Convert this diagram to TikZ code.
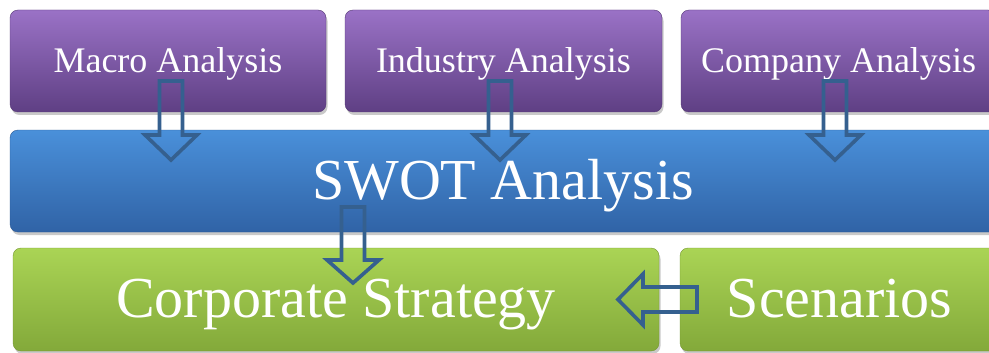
\documentclass[tikz,border=0pt]{standalone}
\usepackage{fontspec}
\setmainfont{Liberation Serif}
\usetikzlibrary{shadows}
\definecolor{arrcol}{HTML}{35608F}
\tikzset{
  box/.style={rounded corners=8pt, drop shadow={shadow xshift=1.5pt, shadow yshift=-3pt, opacity=0.35, fill=black!60}},
  purplebox/.style={box, top color=purTop, middle color=purMid, bottom color=purBot, draw=purBot!90!black, line width=0.4pt},
  bluebox/.style={box, top color=bluTop, middle color=bluMid, bottom color=bluBot, draw=bluBot!90!black, line width=0.4pt},
  greenbox/.style={box, top color=grnTop, middle color=grnMid, bottom color=grnBot, draw=grnBot!90!black, line width=0.4pt},
  smalltxt/.style={text=white, font=\fontsize{36}{40}\selectfont, anchor=base, inner sep=0pt},
  bigtxt/.style={text=white, font=\fontsize{58}{64}\selectfont, anchor=base, inner sep=0pt},
  blockarrow/.style={draw=arrcol, line width=3.6pt, line join=miter},
}
\definecolor{purTop}{HTML}{9A72C6}
\definecolor{purMid}{HTML}{7B56A6}
\definecolor{purBot}{HTML}{5F3F84}
\definecolor{bluTop}{HTML}{4A90DA}
\definecolor{bluMid}{HTML}{3D7DC9}
\definecolor{bluBot}{HTML}{3063A6}
\definecolor{grnTop}{HTML}{AAD455}
\definecolor{grnMid}{HTML}{9CC54A}
\definecolor{grnBot}{HTML}{83A93A}
\begin{document}
\begin{tikzpicture}[x=1pt,y=-1pt]
\useasboundingbox (0,0) rectangle (989,353);
\fill[white] (0,0) rectangle (989,353);
\begin{scope}
\clip (0,0) rectangle (989,353);
% boxes
\path[purplebox] (10,10) rectangle (326,112);
\path[purplebox] (345,10) rectangle (662,112);
\path[purplebox] (681,10) rectangle (996,112);
\path[bluebox] (10,130) rectangle (998,232);
\path[greenbox] (13,248) rectangle (659,351);
\path[greenbox] (680,248) rectangle (999,351);
% texts
\node[smalltxt] (macro) at (168,73) {Macro Analysis};
\node[smalltxt] (industry) at (503.5,73) {Industry Analysis};
\node[smalltxt] (company) at (838.5,73) {Company Analysis};
\node[bigtxt] (swot) at (503,199) {SWOT Analysis};
\node[bigtxt] (corp) at (336,317) {Corporate Strategy};
\node[bigtxt] (scen) at (839.5,317) {Scenarios};
% block arrows
\draw[blockarrow] (159.5,81) -- (182.5,81) -- (182.5,135) -- (197,135) -- (171,160) -- (145,135) -- (159.5,135) -- cycle;
\draw[blockarrow] (488.5,81) -- (511.5,81) -- (511.5,135) -- (526,135) -- (500,160) -- (474,135) -- (488.5,135) -- cycle;
\draw[blockarrow] (823.5,81) -- (846.5,81) -- (846.5,135) -- (861,135) -- (835,160) -- (809,135) -- (823.5,135) -- cycle;
\draw[blockarrow] (341.5,207) -- (364.5,207) -- (364.5,260) -- (379,260) -- (353,283) -- (327,260) -- (341.5,260) -- cycle;
\draw[blockarrow] (697,287) -- (697,312) -- (643,312) -- (643,325) -- (618,299.5) -- (643,274) -- (643,287) -- cycle;
\end{scope}
\end{tikzpicture}
\end{document}
